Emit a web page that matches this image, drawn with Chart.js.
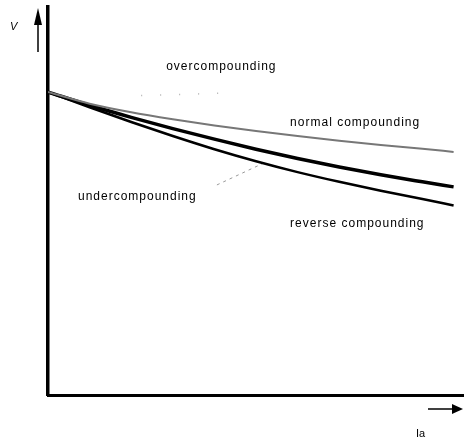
<!DOCTYPE html>
<html>
<head>
<meta charset="utf-8">
<script src="https://cdn.jsdelivr.net/npm/chart.js@4/dist/chart.umd.min.js"></script>
<style>
  html, body { margin: 0; padding: 0; background: #fff; }
  #wrap { width: 464px; height: 441px; }
</style>
</head>
<body>
<div id="wrap"><canvas id="chart"></canvas></div>
<script>
// Armature current (arbitrary units) and terminal voltage for each characteristic
const ia = [0, 1, 2, 3, 4, 5, 6, 7, 8, 9, 9.75];
const normal = [78.1, 75.1, 72.9, 71.1, 69.5, 68.1, 66.8, 65.6, 64.5, 63.5, 62.7];
const under = [78.1, 74.7, 71.6, 68.7, 66.0, 63.4, 61.0, 58.8, 56.8, 55.0, 53.7];
const reverse = [78.1, 74.2, 70.4, 66.8, 63.4, 60.3, 57.5, 55.0, 52.7, 50.6, 48.9];

// faded overcompounding trace, only a few dots left in the picture
const overX = [2.24, 4.45];
const overY = [77.2, 77.9];

// leader line from the undercompounding label
const leaderX = [4.06, 5.26];
const leaderY = [54.2, 60.2];

// curve labels (x, y in data units)
const labels = ['overcompounding', 'normal compounding', 'undercompounding', 'reverse compounding'];
const labelX = [2.84, 5.82, 0.72, 5.82];
const labelY = [84.6, 70.1, 51.1, 44.1];

function toPoints(xs, ys) {
    return xs.map((x, i) => ({x: x, y: ys[i]}));
}

const chartEl = document.getElementById('chart');

//Draw the curve labels, axis arrows and axis names
const decorations = {
    id: 'decorations',
    afterDraw(chart) {
        const ctx = chart.ctx;
        const xs = chart.scales.x;
        const ys = chart.scales.y;
        const area = chart.chartArea;
        ctx.save();
        ctx.fillStyle = '#000';
        ctx.font = '12px "Liberation Sans", Arial, sans-serif';
        ctx.letterSpacing = '1px';
        ctx.textBaseline = 'middle';
        ctx.textAlign = 'left';
        labels.forEach((t, i) => {
            ctx.fillText(t, xs.getPixelForValue(labelX[i]), ys.getPixelForValue(labelY[i]));
        });

        // V label and up arrow
        ctx.letterSpacing = '0px';
        ctx.font = 'italic 11px "Liberation Sans", Arial, sans-serif';
        ctx.fillText('V', area.left - 38, area.top + 20);
        ctx.strokeStyle = '#000';
        ctx.lineWidth = 1.5;
        ctx.beginPath();
        ctx.moveTo(area.left - 10, area.top + 45);
        ctx.lineTo(area.left - 10, area.top + 16);
        ctx.stroke();
        ctx.beginPath();
        ctx.moveTo(area.left - 10, area.top + 1);
        ctx.lineTo(area.left - 14, area.top + 18);
        ctx.lineTo(area.left - 6, area.top + 18);
        ctx.closePath();
        ctx.fill();

        // Ia label and right arrow
        ctx.font = '11px "Liberation Sans", Arial, sans-serif';
        ctx.fillText('Ia', area.right - 48, area.bottom + 38);
        ctx.beginPath();
        ctx.moveTo(area.right - 36, area.bottom + 13.5);
        ctx.lineTo(area.right - 10, area.bottom + 13.5);
        ctx.stroke();
        ctx.beginPath();
        ctx.moveTo(area.right - 1, area.bottom + 13.5);
        ctx.lineTo(area.right - 12, area.bottom + 8.5);
        ctx.lineTo(area.right - 12, area.bottom + 18.5);
        ctx.closePath();
        ctx.fill();
        ctx.restore();
    }
};

const config = {
    type: 'line',
    data: {
        datasets: [{
            label: 'normal compounding',
            data: toPoints(ia, normal),
            borderColor: '#777',
            borderWidth: 2
        },
        {
            label: 'undercompounding',
            data: toPoints(ia, under),
            borderColor: '#000',
            borderWidth: 3.5
        },
        {
            label: 'reverse compounding',
            data: toPoints(ia, reverse),
            borderColor: '#000',
            borderWidth: 2.5
        },
        {
            label: 'overcompounding',
            data: toPoints(overX, overY),
            borderColor: '#b0b0b0',
            borderWidth: 1.5,
            borderDash: [1, 18],
            tension: 0
        },
        {
            label: 'leader',
            data: toPoints(leaderX, leaderY),
            borderColor: '#999',
            borderWidth: 1,
            borderDash: [3, 4],
            tension: 0
        }]
    },
    options: {
        responsive: true,
        maintainAspectRatio: false,
        animation: false,
        layout: {
            padding: {left: 48, top: 7, right: 0, bottom: 45.5}
        },
        elements: {
            point: {radius: 0},
            line: {cubicInterpolationMode: 'monotone'}
        },
        plugins: {
            legend: {display: false},
            tooltip: {enabled: false}
        },
        scales: {
            x: {
                type: 'linear',
                position: 'bottom',
                min: 0,
                max: 10,
                grid: {display: false, drawTicks: false},
                ticks: {display: false},
                border: {display: true, color: '#000', width: 3},
                afterFit: (s) => { s.height = 0; }
            },
            y: {
                type: 'linear',
                min: 0,
                max: 100,
                grid: {display: false, drawTicks: false},
                ticks: {display: false},
                border: {display: true, color: '#000', width: 3.5},
                afterFit: (s) => { s.width = 0; }
            }
        }
    },
    plugins: [decorations]
};

const chart = new Chart(chartEl, config);
</script>
</body>
</html>
